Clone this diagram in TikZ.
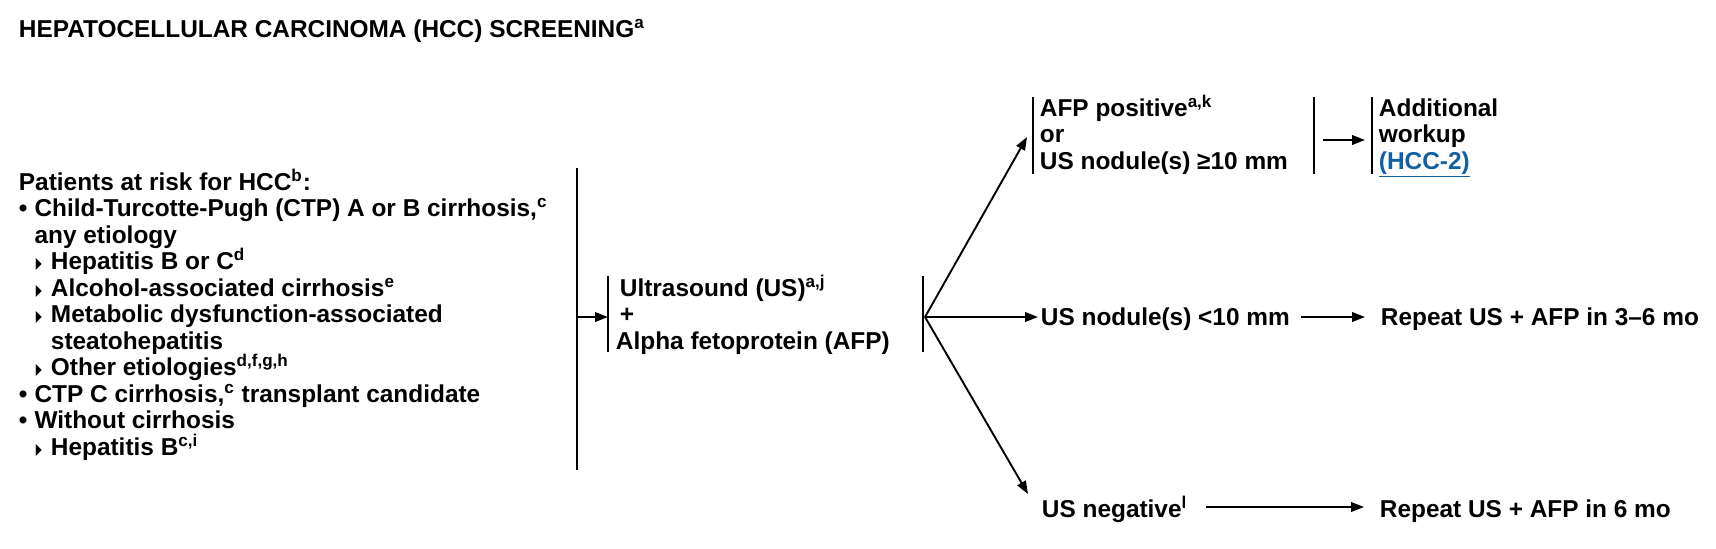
\documentclass[tikz,border=0pt]{standalone}
\usepackage{fontspec}
\setmainfont{Liberation Sans}
\newfontfamily\dvsans{DejaVu Sans}
\usetikzlibrary{arrows.meta}
\definecolor{linkblue}{RGB}{18,96,160}
\newcommand{\bodyfont}{\fontsize{12.2}{13.25}\selectfont\bfseries\lineskiplimit=-20pt\lineskip=0pt}
\newcommand{\sups}[1]{\textsuperscript{#1}}
\newcommand{\bl}{\makebox[7.8pt][l]{•}}
\newcommand{\trg}{\hspace*{8.5pt}\makebox[7.5pt][l]{\raisebox{0.5pt}{\resizebox{3pt}{5pt}{\dvsans ▶}}}}
\newcommand{\ind}[1]{\hspace*{#1}}
\begin{document}
\begin{tikzpicture}[x=0.5pt,y=-0.5pt,line width=0.95pt,
  txt/.style={inner sep=0pt,anchor=base west,font=\bodyfont},
  arr/.style={-{Triangle[length=6.5pt,width=4.8pt]}}]
\useasboundingbox (0,0) rectangle (1716,548);

% title
\node[txt] (title) at (18,37) {HEPATOCELLULAR CARCINOMA (HCC) SCREENING\sups{a}};

% left column
\node[txt] (risk) at (18,190) {\parbox[t]{290pt}{\bodyfont\raggedright
Patients at risk for HCC\sups{b}:\\
\bl Child-Turcotte-Pugh (CTP) A or B cirrhosis,\sups{c}\\
\ind{7.8pt}any etiology\\
\trg Hepatitis B or C\sups{d}\\
\trg Alcohol-associated cirrhosis\sups{e}\\
\trg Metabolic dysfunction-associated\\
\ind{16pt}steatohepatitis\\
\trg Other etiologies\sups{d,f,g,h}\\
\bl CTP C cirrhosis,\sups{c} transplant candidate\\
\bl Without cirrhosis\\
\trg Hepatitis B\sups{c,i}}};

% main bracket
\coordinate (mtop) at (577,168);
\coordinate (mbot) at (577,470);
\coordinate (mmid) at (577,317);
\draw (mtop) -- (mbot);

% ultrasound block
\coordinate (ubtop) at (608,276);
\coordinate (ubbot) at (608,352);
\coordinate (ubmid) at (608,317);
\draw (ubtop) -- (ubbot);
\node[txt] (us) at (615,296) {\parbox[t]{200pt}{\bodyfont
\hspace*{2pt}Ultrasound (US)\sups{a,j}\\
\hspace*{2pt}+\\
Alpha fetoprotein (AFP)}};
\draw[arr] (mmid) -- (ubmid);

\coordinate (rbtop) at (923,276);
\coordinate (rbbot) at (923,352);
\coordinate (split) at (925,317);
\draw (rbtop) -- (rbbot);

% AFP positive block
\coordinate (abtop) at (1033,97);
\coordinate (abbot) at (1033,174);
\coordinate (abtip) at (1027,137);
\draw (abtop) -- (abbot);
\node[txt] (afp) at (1039,116) {\parbox[t]{150pt}{\bodyfont
AFP positive\sups{a,k}\\
or\\
US nodule(s) ≥10 mm}};
\draw[arr] (split) -- (abtip);

\coordinate (a2top) at (1314,97);
\coordinate (a2bot) at (1314,174);
\draw (a2top) -- (a2bot);
\coordinate (a3top) at (1372,97);
\coordinate (a3bot) at (1372,174);
\draw (a3top) -- (a3bot);
\node[txt] (work) at (1378,116) {\parbox[t]{100pt}{\bodyfont
Additional\\
workup\\
\textcolor{linkblue}{\underline{(HCC-2)}}}};
\coordinate (a2r) at (1323,140);
\coordinate (a3l) at (1365,140);
\draw[arr] (a2r) -- (a3l);

% middle row
\node[txt] (small) at (1040,325) {US nodule(s) <10 mm};
\node[txt] (rep1) at (1380,325) {Repeat US + AFP in 3–6 mo};
\coordinate (smallin) at (1038,317);
\coordinate (smallout) at (1301,317);
\coordinate (rep1in) at (1365,317);
\draw[arr] (split) -- (smallin);
\draw[arr] (smallout) -- (rep1in);

% bottom row
\node[txt] (neg) at (1041,517) {US negative\sups{l}};
\node[txt] (rep2) at (1379,517) {Repeat US + AFP in 6 mo};
\coordinate (negtip) at (1028,494);
\coordinate (negout) at (1206,507);
\coordinate (rep2in) at (1364,507);
\draw[arr] (split) -- (negtip);
\draw[arr] (negout) -- (rep2in);
\end{tikzpicture}
\end{document}
